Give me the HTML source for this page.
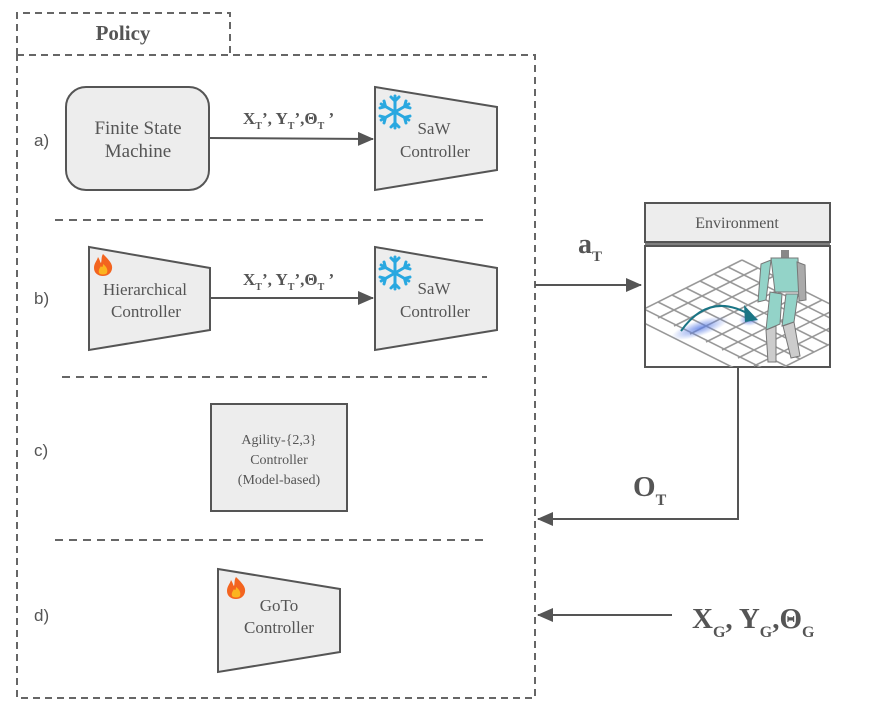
<!DOCTYPE html>
<html><head><meta charset="utf-8"><style>
html,body{margin:0;padding:0;background:#fff;}
svg{display:block;}
.s{font-family:"Liberation Serif",serif;fill:#555;}
.a{font-family:"Liberation Sans",sans-serif;fill:#555;font-size:17px;}
</style></head><body>
<svg width="877" height="715" viewBox="0 0 877 715" xmlns="http://www.w3.org/2000/svg">
<defs>
<marker id="ar" markerWidth="16" markerHeight="14" refX="15" refY="7" orient="auto" markerUnits="userSpaceOnUse">
<path d="M0,0 L16,7 L0,14 Z" fill="#555"/></marker>
<marker id="arb" markerWidth="16" markerHeight="14" refX="15" refY="7" orient="auto" markerUnits="userSpaceOnUse">
<path d="M0,0 L16,7 L0,14 Z" fill="#555"/></marker>
<g id="snow" stroke="#29a8e0" stroke-width="3" stroke-linecap="round" fill="none">
<g id="arm"><line x1="0" y1="0" x2="0" y2="-16"/><polyline points="-4,-15 0,-11 4,-15"/></g>
<use href="#arm" transform="rotate(60)"/><use href="#arm" transform="rotate(120)"/><use href="#arm" transform="rotate(180)"/><use href="#arm" transform="rotate(240)"/><use href="#arm" transform="rotate(300)"/>
</g>
<g id="fire">
<path d="M0,-11 C6,-5 10,-1 9,4 C8,9 4,11 0,11 C-5,11 -9,8 -9,3 C-9,-2 -6,-4 -5,-8 C-3,-5 -3,-3 -2,-2 C-1,-5 -2,-8 0,-11 Z" fill="#f3641f"/>
<path d="M0,-1 C4,2 5,5 4,8 C3,10 -3,10 -4,8 C-5,5 -3,3 -2,1 C-1,3 0,2 0,-1 Z" fill="#fbb41f"/>
</g>
<clipPath id="cp"><rect x="646" y="246" width="183" height="121"/></clipPath>
<radialGradient id="bl"><stop offset="0" stop-color="#5b7ee6" stop-opacity="0.8"/><stop offset="1" stop-color="#5b7ee6" stop-opacity="0"/></radialGradient>
</defs>

<!-- policy frame -->
<path d="M17,55 L17,13 L230,13 L230,55" fill="none" stroke="#666" stroke-width="2" stroke-dasharray="7,5"/>
<text x="123" y="40" text-anchor="middle" class="s" style="font-weight:bold;font-size:21px;fill:#555">Policy</text>
<rect x="17" y="55" width="518" height="643" fill="none" stroke="#666" stroke-width="2" stroke-dasharray="7,5"/>

<g stroke="#666" stroke-width="2" stroke-dasharray="8,6">
<line x1="55" y1="220" x2="483" y2="220"/>
<line x1="62" y1="377" x2="487" y2="377"/>
<line x1="55" y1="540" x2="483" y2="540"/>
</g>

<text x="34" y="146" class="a">a)</text>
<text x="34" y="304" class="a">b)</text>
<text x="34" y="456" class="a">c)</text>
<text x="34" y="621" class="a">d)</text>

<!-- a -->
<rect x="66" y="87" width="143" height="103" rx="20" fill="#ededed" stroke="#555" stroke-width="2"/>
<text x="138" y="134" text-anchor="middle" class="s" style="font-size:19px">Finite State</text>
<text x="138" y="157" text-anchor="middle" class="s" style="font-size:19px">Machine</text>
<line x1="209" y1="138" x2="373" y2="139" stroke="#555" stroke-width="2" marker-end="url(#ar)"/>
<text x="243" y="124" class="s" style="font-weight:bold;font-size:17px">X<tspan dy="5" font-size="10">T</tspan><tspan dy="-5">’, Y</tspan><tspan dy="5" font-size="10">T</tspan><tspan dy="-5">’,Θ</tspan><tspan dy="5" font-size="10">T</tspan><tspan dy="-5"> ’</tspan></text>
<polygon points="375,87 497,107 497,170 375,190" fill="#ededed" stroke="#555" stroke-width="2"/>
<use href="#snow" x="395" y="112"/>
<text x="434" y="134" text-anchor="middle" class="s" style="font-size:17px">SaW</text>
<text x="435" y="157" text-anchor="middle" class="s" style="font-size:17px">Controller</text>

<!-- b -->
<polygon points="89,247 210,268 210,330 89,350" fill="#ededed" stroke="#555" stroke-width="2"/>
<use href="#fire" x="103" y="265"/>
<text x="145" y="295" text-anchor="middle" class="s" style="font-size:17px">Hierarchical</text>
<text x="146" y="317" text-anchor="middle" class="s" style="font-size:17px">Controller</text>
<line x1="211" y1="298" x2="373" y2="298" stroke="#555" stroke-width="2" marker-end="url(#ar)"/>
<text x="243" y="285" class="s" style="font-weight:bold;font-size:17px">X<tspan dy="5" font-size="10">T</tspan><tspan dy="-5">’, Y</tspan><tspan dy="5" font-size="10">T</tspan><tspan dy="-5">’,Θ</tspan><tspan dy="5" font-size="10">T</tspan><tspan dy="-5"> ’</tspan></text>
<polygon points="375,247 497,268 497,330 375,350" fill="#ededed" stroke="#555" stroke-width="2"/>
<use href="#snow" x="395" y="273"/>
<text x="434" y="294" text-anchor="middle" class="s" style="font-size:17px">SaW</text>
<text x="435" y="317" text-anchor="middle" class="s" style="font-size:17px">Controller</text>

<!-- c -->
<rect x="211" y="404" width="136" height="107" fill="#ededed" stroke="#555" stroke-width="2"/>
<text x="279" y="444" text-anchor="middle" class="s" style="font-size:14px">Agility-{2,3}</text>
<text x="279" y="464" text-anchor="middle" class="s" style="font-size:14px">Controller</text>
<text x="279" y="484" text-anchor="middle" class="s" style="font-size:14px">(Model-based)</text>

<!-- d -->
<polygon points="218,569 340,589 340,652 218,672" fill="#ededed" stroke="#555" stroke-width="2"/>
<use href="#fire" x="236" y="588"/>
<text x="279" y="611" text-anchor="middle" class="s" style="font-size:17px">GoTo</text>
<text x="279" y="633" text-anchor="middle" class="s" style="font-size:17px">Controller</text>

<!-- environment -->
<rect x="645" y="203" width="185" height="39" fill="#ededed" stroke="#555" stroke-width="2"/>
<text x="737" y="228" text-anchor="middle" class="s" style="font-size:16px">Environment</text>
<line x1="645" y1="244" x2="830" y2="244" stroke="#555" stroke-width="1.5"/>
<rect x="645" y="246" width="185" height="121" fill="#fff" stroke="#555" stroke-width="2"/>
<g clip-path="url(#cp)" stroke="#999" stroke-width="1.6" fill="none">
<line x1="742" y1="260" x2="642" y2="310"/><line x1="758" y1="268" x2="658" y2="318"/><line x1="774" y1="276" x2="674" y2="326"/><line x1="790" y1="284" x2="690" y2="334"/><line x1="806" y1="292" x2="706" y2="342"/><line x1="822" y1="300" x2="722" y2="350"/><line x1="838" y1="308" x2="738" y2="358"/><line x1="854" y1="316" x2="754" y2="366"/><line x1="870" y1="324" x2="770" y2="374"/>
<line x1="742" y1="260" x2="870" y2="324"/><line x1="728" y1="267" x2="856" y2="331"/><line x1="714" y1="274" x2="842" y2="338"/><line x1="700" y1="281" x2="828" y2="345"/><line x1="686" y1="288" x2="814" y2="352"/><line x1="672" y1="295" x2="800" y2="359"/><line x1="658" y1="302" x2="786" y2="366"/><line x1="644" y1="309" x2="772" y2="373"/><line x1="630" y1="316" x2="758" y2="380"/>
</g>
<g clip-path="url(#cp)">
<ellipse cx="700" cy="328" rx="30" ry="8" fill="url(#bl)" transform="rotate(-18 700 328)"/>
<ellipse cx="749" cy="320" rx="10" ry="6" fill="url(#bl)"/>
<path d="M681,331 Q710,290 752,316" stroke="#1a7585" stroke-width="2" fill="none"/>
<path d="M744,305 L758,320 L745,322 Z" fill="#1a7585"/>
<!-- robot -->
<rect x="781" y="250" width="8" height="8" fill="#888"/>
<path d="M771,258 L798,258 L799,292 L775,292 Z" fill="#93d3c8" stroke="#777" stroke-width="1"/>
<path d="M761,264 L771,260 L766,300 L758,302 Z" fill="#93d3c8" stroke="#777" stroke-width="1"/>
<path d="M797,262 L805,265 L806,300 L799,301 Z" fill="#aaa" stroke="#777" stroke-width="1"/>
<path d="M770,292 L782,294 L780,324 L766,330 Z" fill="#93d3c8" stroke="#777" stroke-width="1"/>
<path d="M786,294 L798,294 L794,322 L782,326 Z" fill="#93d3c8" stroke="#777" stroke-width="1"/>
<path d="M766,330 L776,326 L776,362 L768,362 Z" fill="#ccc" stroke="#777" stroke-width="1"/>
<path d="M783,326 L794,322 L800,356 L791,358 Z" fill="#ccc" stroke="#777" stroke-width="1"/>
</g>

<!-- arrows -->
<line x1="535" y1="285" x2="641" y2="285" stroke="#555" stroke-width="2" marker-end="url(#arb)"/>
<text x="578" y="253" class="s" style="font-weight:bold;font-size:28px">a<tspan dy="8" font-size="15">T</tspan></text>
<polyline points="738,367 738,519 538,519" fill="none" stroke="#555" stroke-width="2" marker-end="url(#arb)"/>
<text x="633" y="496" class="s" style="font-weight:bold;font-size:29px">O<tspan dy="9" font-size="16">T</tspan></text>
<line x1="672" y1="615" x2="538" y2="615" stroke="#555" stroke-width="2" marker-end="url(#arb)"/>
<text x="692" y="628" class="s" style="font-weight:bold;font-size:29px">X<tspan dy="9" font-size="16">G</tspan><tspan dy="-9">, Y</tspan><tspan dy="9" font-size="16">G</tspan><tspan dy="-9">,Θ</tspan><tspan dy="9" font-size="16">G</tspan></text>
</svg>
</body></html>
